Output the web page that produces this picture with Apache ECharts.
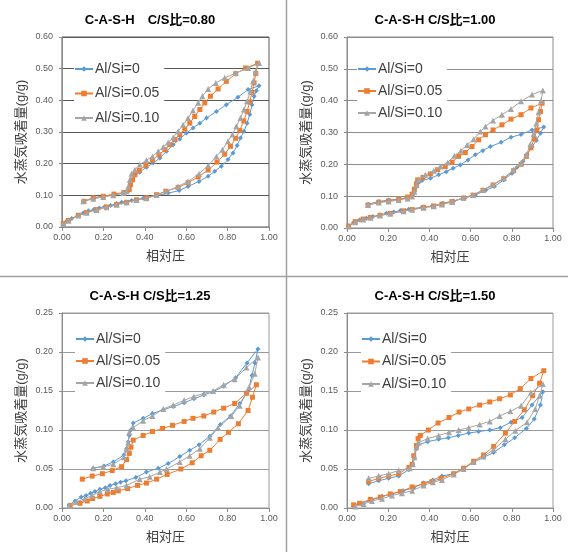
<!DOCTYPE html>
<html>
<head>
<meta charset="utf-8">
<script src="https://cdn.jsdelivr.net/npm/echarts@6/dist/echarts.min.js"></script>
<style>html,body{margin:0;padding:0;background:#fff;}#c{width:568px;height:552px;}</style>
</head>
<body>
<div id="c"></div>
<script>
// ---------- Data (x = relative pressure, y = water vapour adsorption g/g) ----------
var seriesNames = ['Al/Si=0', 'Al/Si=0.05', 'Al/Si=0.10'];
var panelTitles = ['C-A-S-H\u3000C/S比=0.80', 'C-A-S-H C/S比=1.00', 'C-A-S-H C/S比=1.25', 'C-A-S-H C/S比=1.50'];
var xTicks = [0, 0.2, 0.4, 0.6, 0.8, 1.0];
var yMaxTop = 0.6, yStepTop = 0.1;
var yMaxBottom = 0.25, yStepBottom = 0.05;

// C/S = 0.80
var cs080_al0_x = [0.006,0.023,0.047,0.076,0.103,0.127,0.154,0.18,0.207,0.235,0.264,0.288,0.336,0.392,0.457,0.513,0.566,0.609,0.662,0.706,0.738,0.77,0.802,0.826,0.846,0.862,0.879,0.894,0.907,0.918,0.928,0.939,0.952,
  0.899,0.85,0.794,0.746,0.698,0.666,0.633,0.601,0.569,0.537,0.505,0.473,0.44,0.408,0.376,0.352,0.336,0.328,0.32,0.296,0.248,0.199,0.151,0.103];
var cs080_al0_y = [0.004,0.019,0.027,0.036,0.044,0.051,0.055,0.06,0.065,0.068,0.074,0.078,0.084,0.091,0.099,0.107,0.115,0.128,0.144,0.16,0.176,0.192,0.213,0.234,0.257,0.281,0.302,0.328,0.355,0.386,0.413,0.43,0.446,
  0.434,0.41,0.386,0.365,0.344,0.328,0.313,0.297,0.278,0.26,0.239,0.218,0.202,0.189,0.173,0.163,0.144,0.128,0.113,0.107,0.102,0.097,0.092,0.081];
var cs080_al005_x = [0.006,0.031,0.079,0.119,0.167,0.215,0.264,0.312,0.36,0.408,0.457,0.502,0.561,0.609,0.658,0.706,0.749,0.786,0.814,0.839,0.859,0.878,0.894,0.907,0.918,0.928,0.936,0.945,
  0.887,0.839,0.794,0.754,0.717,0.69,0.666,0.641,0.617,0.593,0.569,0.545,0.521,0.497,0.469,0.437,0.405,0.373,0.352,0.341,0.331,0.325,0.299,0.251,0.199,0.151,0.106];
var cs080_al005_y = [0.011,0.021,0.037,0.046,0.055,0.063,0.071,0.078,0.086,0.092,0.102,0.113,0.125,0.14,0.158,0.18,0.205,0.23,0.255,0.28,0.305,0.335,0.365,0.395,0.425,0.455,0.485,0.517,
  0.502,0.484,0.46,0.436,0.413,0.392,0.371,0.349,0.328,0.309,0.292,0.276,0.26,0.244,0.228,0.211,0.195,0.179,0.165,0.149,0.134,0.118,0.109,0.104,0.097,0.092,0.081];
var cs080_al010_x = [0.006,0.031,0.079,0.119,0.167,0.215,0.264,0.312,0.36,0.408,0.457,0.502,0.561,0.609,0.662,0.706,0.746,0.775,0.802,0.823,0.842,0.862,0.879,0.894,0.91,0.923,0.936,0.952,
  0.899,0.839,0.786,0.743,0.706,0.678,0.658,0.633,0.609,0.585,0.561,0.537,0.513,0.489,0.465,0.437,0.408,0.376,0.352,0.336,0.328,0.32,0.312,0.296,0.248,0.199,0.151,0.103];
var cs080_al010_y = [0.01,0.02,0.036,0.045,0.054,0.062,0.07,0.077,0.085,0.091,0.101,0.112,0.128,0.144,0.168,0.194,0.223,0.244,0.271,0.292,0.318,0.344,0.371,0.397,0.428,0.46,0.492,0.518,
  0.502,0.486,0.471,0.455,0.436,0.413,0.392,0.368,0.344,0.323,0.302,0.283,0.267,0.253,0.239,0.223,0.211,0.197,0.181,0.168,0.149,0.128,0.113,0.107,0.1,0.095,0.089,0.081];

// C/S = 1.00
var cs100_al0_x = [0.008,0.032,0.061,0.094,0.126,0.159,0.191,0.227,0.259,0.299,0.364,0.413,0.466,0.518,0.574,0.623,0.672,0.715,0.761,0.801,0.825,0.854,0.874,0.898,0.919,0.939,0.955,
  0.898,0.845,0.796,0.748,0.696,0.659,0.623,0.587,0.55,0.515,0.482,0.445,0.405,0.364,0.348,0.337,0.327,0.316,0.294,0.251,0.202,0.154,0.102];
var cs100_al0_y = [0.006,0.017,0.025,0.031,0.036,0.041,0.046,0.05,0.055,0.059,0.065,0.069,0.078,0.085,0.095,0.104,0.118,0.13,0.151,0.172,0.19,0.21,0.232,0.255,0.275,0.298,0.317,
  0.308,0.294,0.285,0.269,0.256,0.243,0.23,0.214,0.198,0.188,0.177,0.167,0.156,0.149,0.143,0.13,0.114,0.101,0.095,0.09,0.088,0.083,0.075];
var cs100_al005_x = [0.008,0.04,0.078,0.113,0.16,0.21,0.275,0.316,0.372,0.421,0.461,0.51,0.566,0.612,0.66,0.709,0.761,0.809,0.845,0.871,0.893,0.909,0.922,0.93,0.939,0.947,
  0.893,0.845,0.796,0.752,0.709,0.672,0.639,0.607,0.574,0.542,0.51,0.477,0.44,0.405,0.369,0.343,0.337,0.327,0.316,0.294,0.251,0.202,0.154,0.102];
var cs100_al005_y = [0.006,0.02,0.028,0.033,0.04,0.046,0.054,0.058,0.065,0.069,0.075,0.083,0.094,0.103,0.118,0.135,0.155,0.18,0.2,0.225,0.252,0.28,0.308,0.34,0.366,0.392,
  0.377,0.356,0.342,0.324,0.308,0.293,0.277,0.256,0.237,0.225,0.207,0.193,0.183,0.17,0.159,0.151,0.139,0.122,0.106,0.097,0.09,0.085,0.081,0.072];
var cs100_al010_x = [0.008,0.04,0.078,0.113,0.16,0.21,0.275,0.316,0.372,0.421,0.461,0.51,0.566,0.612,0.66,0.709,0.761,0.809,0.845,0.871,0.89,0.906,0.919,0.93,0.942,0.951,
  0.898,0.845,0.796,0.752,0.709,0.672,0.647,0.615,0.583,0.553,0.521,0.489,0.453,0.421,0.38,0.348,0.337,0.327,0.316,0.294,0.251,0.202,0.154,0.102];
var cs100_al010_y = [0.005,0.018,0.027,0.032,0.039,0.045,0.053,0.057,0.064,0.068,0.074,0.082,0.095,0.104,0.12,0.137,0.157,0.183,0.204,0.23,0.262,0.295,0.328,0.364,0.4,0.432,
  0.419,0.398,0.374,0.356,0.338,0.319,0.303,0.279,0.261,0.243,0.227,0.206,0.193,0.18,0.167,0.153,0.135,0.114,0.099,0.093,0.088,0.083,0.08,0.072];

// C/S = 1.25
var cs125_al0_x = [0.034,0.063,0.092,0.116,0.138,0.159,0.183,0.209,0.232,0.259,0.283,0.309,0.357,0.408,0.465,0.513,0.569,0.617,0.662,0.714,0.765,0.814,0.859,0.899,0.918,0.932,0.947,
  0.894,0.839,0.781,0.73,0.685,0.637,0.59,0.537,0.489,0.437,0.392,0.344,0.333,0.325,0.32,0.312,0.299,0.248,0.203,0.151];
var cs125_al0_y = [0.004,0.009,0.014,0.016,0.019,0.021,0.024,0.026,0.029,0.031,0.033,0.035,0.039,0.046,0.051,0.057,0.066,0.074,0.081,0.092,0.107,0.118,0.134,0.15,0.17,0.186,0.204,
  0.186,0.167,0.156,0.149,0.145,0.14,0.135,0.13,0.126,0.121,0.115,0.109,0.1,0.093,0.085,0.076,0.068,0.059,0.054,0.051];
var cs125_al005_x = [0.039,0.087,0.122,0.148,0.183,0.219,0.248,0.272,0.317,0.365,0.408,0.457,0.508,0.574,0.629,0.672,0.714,0.764,0.804,0.852,0.899,0.92,0.939,
  0.891,0.834,0.781,0.733,0.685,0.633,0.59,0.534,0.486,0.437,0.392,0.344,0.333,0.325,0.312,0.288,0.243,0.195,0.146,0.098];
var cs125_al005_y = [0.003,0.006,0.009,0.012,0.015,0.018,0.02,0.022,0.025,0.029,0.032,0.037,0.043,0.05,0.058,0.067,0.074,0.088,0.097,0.108,0.125,0.142,0.158,
  0.147,0.134,0.128,0.123,0.118,0.115,0.111,0.106,0.102,0.098,0.093,0.087,0.078,0.07,0.062,0.053,0.048,0.044,0.041,0.037];
var cs125_al010_x = [0.034,0.07,0.11,0.145,0.183,0.222,0.264,0.312,0.376,0.424,0.473,0.505,0.569,0.617,0.666,0.714,0.754,0.818,0.859,0.904,0.931,0.947,
  0.891,0.834,0.781,0.73,0.685,0.637,0.59,0.537,0.489,0.437,0.392,0.344,0.325,0.32,0.312,0.299,0.248,0.199,0.151];
var cs125_al010_y = [0.003,0.008,0.012,0.016,0.021,0.024,0.026,0.029,0.037,0.04,0.046,0.05,0.059,0.067,0.076,0.09,0.103,0.118,0.131,0.155,0.172,0.193,
  0.18,0.165,0.158,0.15,0.147,0.143,0.138,0.132,0.127,0.118,0.112,0.103,0.097,0.084,0.076,0.065,0.056,0.053,0.051];

// C/S = 1.50
var cs150_al0_x = [0.032,0.07,0.118,0.17,0.218,0.272,0.324,0.372,0.417,0.461,0.518,0.566,0.615,0.663,0.712,0.764,0.814,0.871,0.909,0.939,0.951,
  0.898,0.85,0.796,0.744,0.693,0.639,0.591,0.54,0.492,0.445,0.392,0.346,0.337,0.327,0.319,0.299,0.251,0.202,0.154,0.105];
var cs150_al0_y = [0.003,0.006,0.01,0.015,0.018,0.022,0.026,0.032,0.036,0.041,0.044,0.051,0.059,0.065,0.071,0.081,0.09,0.102,0.114,0.132,0.149,
  0.132,0.116,0.11,0.103,0.1,0.098,0.096,0.093,0.09,0.088,0.085,0.081,0.076,0.064,0.056,0.049,0.041,0.038,0.035,0.031];
var cs150_al005_x = [0.032,0.061,0.113,0.162,0.21,0.259,0.316,0.372,0.413,0.456,0.518,0.566,0.615,0.663,0.712,0.769,0.814,0.861,0.901,0.935,0.955,
  0.893,0.841,0.793,0.741,0.693,0.644,0.591,0.544,0.495,0.442,0.395,0.356,0.345,0.337,0.324,0.316,0.301,0.251,0.202,0.154,0.105];
var cs150_al005_y = [0.004,0.006,0.011,0.014,0.018,0.021,0.027,0.031,0.034,0.038,0.044,0.051,0.06,0.068,0.079,0.096,0.111,0.126,0.144,0.16,0.176,
  0.166,0.153,0.145,0.14,0.136,0.132,0.127,0.123,0.116,0.109,0.1,0.093,0.089,0.08,0.067,0.056,0.052,0.044,0.041,0.038,0.034];
var cs150_al010_x = [0.04,0.081,0.121,0.17,0.218,0.267,0.316,0.372,0.417,0.461,0.518,0.566,0.615,0.663,0.712,0.769,0.817,0.874,0.914,0.935,0.951,
  0.893,0.845,0.793,0.741,0.693,0.644,0.591,0.542,0.495,0.445,0.392,0.348,0.337,0.327,0.32,0.304,0.251,0.202,0.154,0.105];
var cs150_al010_y = [0.002,0.005,0.009,0.012,0.016,0.019,0.022,0.029,0.033,0.036,0.043,0.05,0.059,0.066,0.075,0.088,0.099,0.11,0.127,0.144,0.159,
  0.148,0.131,0.124,0.118,0.111,0.107,0.103,0.1,0.097,0.093,0.089,0.084,0.078,0.065,0.056,0.051,0.048,0.044,0.041,0.038];

// ---------- Build chart ----------
function zip(xs, ys) { return xs.map(function (x, i) { return [x, ys[i]]; }); }
var panels = [
  [[cs080_al0_x, cs080_al0_y], [cs080_al005_x, cs080_al005_y], [cs080_al010_x, cs080_al010_y]],
  [[cs100_al0_x, cs100_al0_y], [cs100_al005_x, cs100_al005_y], [cs100_al010_x, cs100_al010_y]],
  [[cs125_al0_x, cs125_al0_y], [cs125_al005_x, cs125_al005_y], [cs125_al010_x, cs125_al010_y]],
  [[cs150_al0_x, cs150_al0_y], [cs150_al005_x, cs150_al005_y], [cs150_al010_x, cs150_al010_y]]
];
var colors = ['#5B9BD5', '#ED7D31', '#A5A5A5'];
var symbols = ['diamond', 'rect', 'triangle'];
var symbolSizes = [5, 5, 6];

var FONT = "'Liberation Sans', Arial, 'Noto Sans CJK JP', sans-serif";
var CJK = "'Noto Sans CJK JP', sans-serif";

var gridPos = [
  { left: 62, top: 37, width: 207, height: 190 },
  { left: 347, top: 37, width: 206, height: 191 },
  { left: 62, top: 313, width: 207, height: 195 },
  { left: 347, top: 313, width: 206, height: 195 }
];
var gridLineColor = ['#595959', '#8c8c8c', '#9a9a9a', '#9a9a9a'];
var titleCenter = [[145, 9], [430, 9], [145, 285], [430, 285]];
var legendPos = [[74, 58, 10.5], [357, 58, 8], [75, 328, 8], [361, 328, 8.5]];

var option = {
  animation: false,
  backgroundColor: '#fff',
  title: [], grid: [], xAxis: [], yAxis: [], legend: [], series: [],
  graphic: [
    { type: 'line', shape: { x1: 286.5, y1: 0, x2: 286.5, y2: 552 }, style: { stroke: '#a0a0a0', lineWidth: 1.5 } },
    { type: 'line', shape: { x1: 0, y1: 276.5, x2: 568, y2: 276.5 }, style: { stroke: '#a0a0a0', lineWidth: 1.5 } }
  ]
};

for (var p = 0; p < 4; p++) {
  var isTopRow = p < 2;
  option.title.push({
    text: panelTitles[p], left: titleCenter[p][0], top: titleCenter[p][1], textAlign: 'center',
    textStyle: { fontFamily: FONT, fontSize: 13, fontWeight: 'bold', color: '#000' }
  });
  option.grid.push({
    left: gridPos[p].left, top: gridPos[p].top, width: gridPos[p].width, height: gridPos[p].height,
    show: true, borderColor: gridLineColor[p], borderWidth: 1, containLabel: false
  });
  option.xAxis.push({
    type: 'value', gridIndex: p, min: 0, max: 1, interval: 0.2,
    name: '相対圧', nameLocation: 'middle', nameGap: 22,
    nameTextStyle: { fontFamily: CJK, fontSize: 13, color: '#404040' },
    axisLine: { show: true, lineStyle: { color: '#8c8c8c', width: 1 } },
    axisTick: { show: true, inside: false, length: 4, lineStyle: { color: '#8c8c8c' } },
    axisLabel: { margin: 6, fontFamily: FONT, fontSize: 9, color: '#595959', formatter: function (v) { return v.toFixed(2); } },
    splitLine: { show: false }
  });
  option.yAxis.push({
    type: 'value', gridIndex: p, min: 0, max: isTopRow ? yMaxTop : yMaxBottom, interval: isTopRow ? yStepTop : yStepBottom,
    name: '水蒸気吸着量(g/g)', nameLocation: 'middle', nameGap: 34,
    nameTextStyle: { fontFamily: FONT, fontSize: 13, color: '#404040' },
    axisLine: { show: true, lineStyle: { color: '#8c8c8c', width: 1 } },
    axisTick: { show: true, inside: false, length: 3, lineStyle: { color: '#8c8c8c' } },
    axisLabel: { margin: 9, fontFamily: FONT, fontSize: 9, color: '#595959', formatter: function (v) { return v.toFixed(2); } },
    splitLine: { show: true, lineStyle: { color: gridLineColor[p], width: 1 } }
  });
  option.legend.push({
    data: seriesNames, orient: 'vertical', left: legendPos[p][0], top: legendPos[p][1],
    itemGap: legendPos[p][2], itemWidth: 18, itemHeight: 7, padding: [4, 5, 4, 0],
    backgroundColor: '#fff',
    textStyle: { fontFamily: FONT, fontSize: 14, color: '#404040', padding: [0, 0, 0, -3] }
  });
  for (var s = 0; s < 3; s++) {
    option.series.push({
      name: seriesNames[s], type: 'line', xAxisIndex: p, yAxisIndex: p,
      data: zip(panels[p][s][0], panels[p][s][1]),
      symbol: symbols[s], symbolSize: symbolSizes[s], showSymbol: true, showAllSymbol: true,
      color: colors[s],
      itemStyle: { color: colors[s] },
      lineStyle: { color: colors[s], width: 1 },
      z: 2 + s
    });
  }
}

var chart = echarts.init(document.getElementById('c'), null, { renderer: 'canvas' });
chart.setOption(option);
</script>
</body>
</html>
